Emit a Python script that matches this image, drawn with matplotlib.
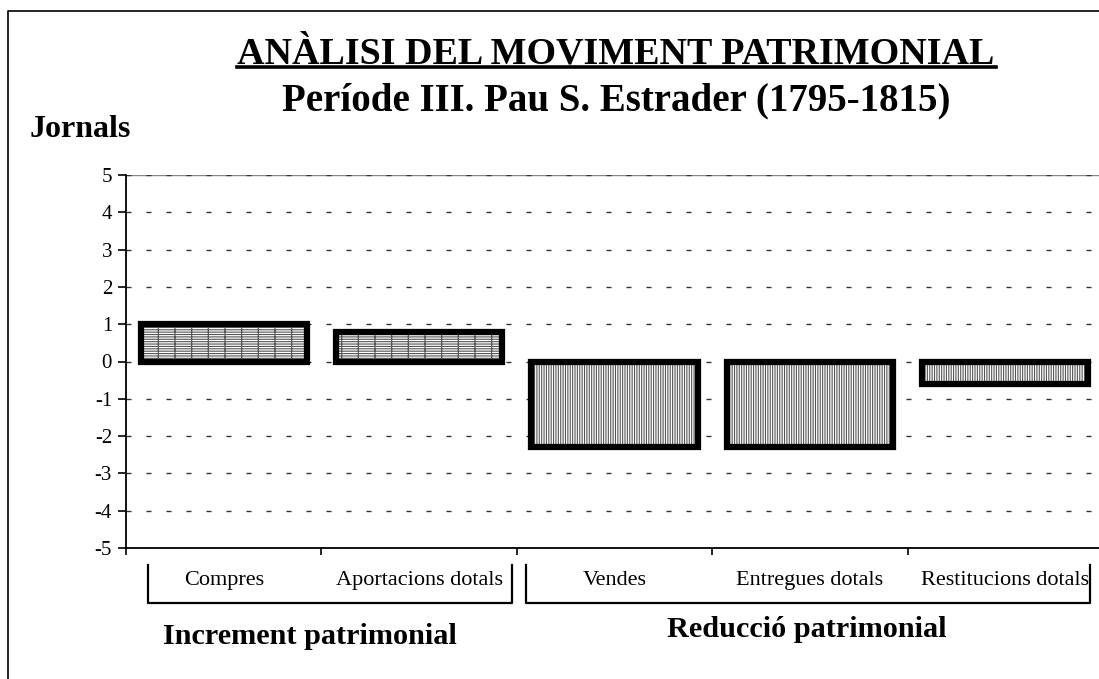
import matplotlib
matplotlib.use("Agg")
import matplotlib.pyplot as plt
from matplotlib.lines import Line2D
import matplotlib.transforms as mtransforms
import numpy as np

categories = ["Compres", "Aportacions dotals", "Vendes", "Entregues dotals", "Restitucions dotals"]
values = [1.0, 0.8, -2.3, -2.3, -0.6]
yticks = [5, 4, 3, 2, 1, 0, -1, -2, -3, -4, -5]
title = "ANÀLISI DEL MOVIMENT PATRIMONIAL"
subtitle = "Període III. Pau S. Estrader (1795-1815)"
ylabel = "Jornals"
group_labels = ["Increment patrimonial", "Reducció patrimonial"]

plt.rcParams['font.family'] = ['Liberation Serif', 'DejaVu Serif']
plt.rcParams['hatch.linewidth'] = 0.8

W, H = 1099, 679
fig = plt.figure(figsize=(W / 100, H / 100), dpi=100)

def fx(px):
    return px / W

def fy(py):
    return 1 - py / H

ax = fig.add_axes([fx(126), fy(548), fx(1103) - fx(126), fy(175) - fy(548)])
x = np.arange(len(categories))
ax.set_xlim(-0.5, len(categories) - 0.5)
ax.set_ylim(-5, 5)

# gridlines
for t in yticks:
    ax.axhline(t, color='#333333', lw=1.0, ls=(0, (3.6, 10.8)), zorder=1)
ax.axhline(5, color='#888888', lw=1.0, zorder=0.9)

hatches = ['-------|', '-------|', '|||||||', '|||||||', '|||||||']
for xi, v, h in zip(x, values, hatches):
    ax.bar(xi, v, width=0.85, color='white', edgecolor='#555555', hatch=h, lw=0, zorder=2)
ax.bar(x, values, width=0.85, fill=False, edgecolor='black', lw=4.5, zorder=3)

for s in ['top', 'right']:
    ax.spines[s].set_visible(False)
ax.spines['left'].set_linewidth(1.3)
ax.spines['bottom'].set_linewidth(1.3)

ax.set_yticks(yticks)
ax.set_yticklabels([str(t) for t in yticks], fontsize=15)
ax.tick_params(axis='y', length=6, width=1.2, pad=4)
ax.set_xticks(np.arange(len(categories) + 1) - 0.5)
ax.set_xticklabels([])
ax.tick_params(axis='x', length=5, width=1.2)

# category labels
trans = mtransforms.blended_transform_factory(ax.transData, fig.transFigure)
for xi, c in zip(x, categories):
    ax.text(xi, fy(585), c, transform=trans, ha='center', va='baseline', fontsize=16, clip_on=False)

# titles
fig.text(fx(616), fy(63), title, ha='center', va='baseline', fontsize=27.4, fontweight='bold')
fig.add_artist(Line2D([fx(237), fx(996)], [fy(67), fy(67)], color='black', lw=2.6))
fig.text(fx(616), fy(110), subtitle, ha='center', va='baseline', fontsize=28, fontweight='bold')
fig.text(fx(30), fy(137), ylabel, ha='left', va='baseline', fontsize=23, fontweight='bold')

# brackets
for (x0, x1) in [(148, 512), (526, 1090)]:
    fig.add_artist(Line2D([fx(x0), fx(x0), fx(x1), fx(x1)], [fy(565), fy(603), fy(603), fy(565)],
                          color='black', lw=1.6))
fig.text(fx(310), fy(644), group_labels[0], ha='center', va='baseline', fontsize=21.8, fontweight='bold')
fig.text(fx(807), fy(637), group_labels[1], ha='center', va='baseline', fontsize=21.8, fontweight='bold')

# figure frame
fig.add_artist(Line2D([fx(8), fx(8), fx(1105)], [fy(690), fy(11), fy(11)], color='black', lw=1.2))

fig.savefig("out.png", dpi=100)
